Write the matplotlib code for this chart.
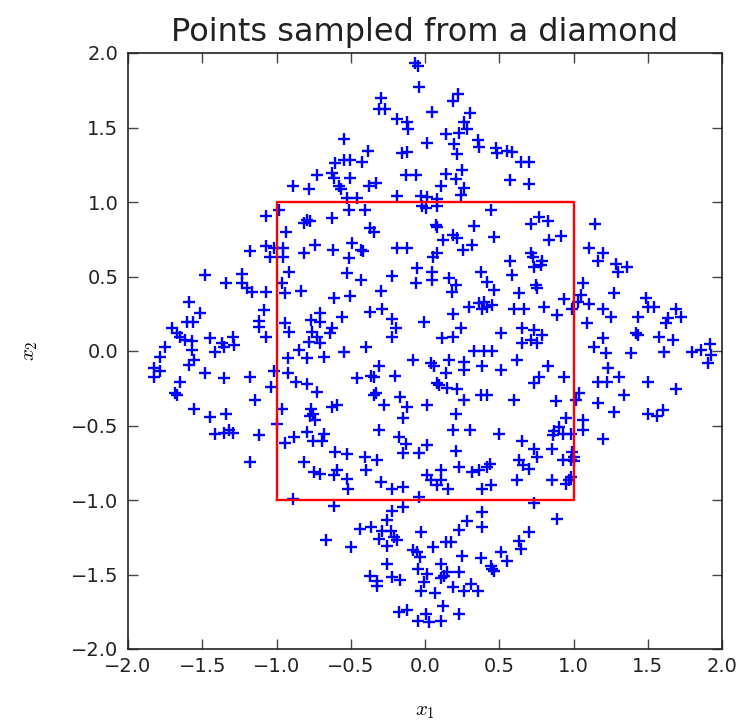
import matplotlib
matplotlib.use("Agg")
import matplotlib.pyplot as plt
import numpy as np

# sampled points (x1, x2), read region by region from top to bottom
X1 = [
    -0.888, -0.782, -0.726,
    -0.065, -0.045, -0.041, -0.293, -0.311, -0.272, 0.224, 0.190, 0.049, 0.303,
    -0.187, -0.120, -0.113, 0.262, 0.285, 0.229, -0.547, 0.139, 0.011, 0.195,
    0.213, 0.359, 0.364, 0.476, 0.487, 0.554, 0.588, 0.644, 0.573, -0.385,
    -0.153, -0.120, -0.423, -0.603, -0.547, -0.506, -0.625, -0.610, -0.506,
    -0.580, -0.565, -0.131, -0.063, 0.139, 0.206, 0.247, -0.378, -0.333, 0.105,
    0.262, 0.240, -0.187, -0.030, 0.015, -0.524, -0.457, 0.083,
    0.701, 0.701,
    -1.068, -0.985, -0.794, -0.776, -0.816, -0.933, -0.744, -0.816, -1.176,
    -1.068, -1.018, -1.045, -0.955, -0.955, -0.917, -1.479, -1.337, -1.232,
    -1.232, -1.198, -1.164, -1.068, -0.962, -0.940, -0.838, -1.591, -1.517,
    -1.086, -1.119, -1.119, -1.068, -1.603, -1.562, -1.704, -1.670, -1.648,
    -1.614, -1.569, -1.569, -1.749, -1.445, -1.367, -1.355, -1.292, -1.288,
    -1.415, -0.940, -0.917, -0.850, -0.771, -0.708, -0.708, -0.760, -0.726,
    -0.782, -0.704,
    -0.513, -0.401, -0.019, 0.004, 0.083, 0.442, -0.625, -0.371, -0.344, 0.071,
    0.083, 0.330, 0.190, 0.217, 0.123, 0.465, -0.490, -0.434, -0.416, -0.619,
    -0.187, -0.120, 0.083, 0.056, 0.258, 0.319, -0.513, 0.572, -0.052, 0.049,
    0.049, -0.524, -0.434, -0.221, -0.063, 0.375, 0.588, 0.161, 0.206, 0.184,
    0.420, 0.465, -0.299, -0.614, -0.506, 0.633, 0.364, 0.397, 0.420, 0.453,
    0.386, 0.296, 0.599, 0.667, -0.371, -0.288, -0.558, 0.190, -0.221, -0.198,
    -0.007, -0.625, -0.637, 0.244, 0.656, 0.510, 0.116, 0.190, -0.221, -0.394,
    -0.547, 0.330, 0.397, 0.453, 0.656,
    0.769, 0.825, 0.712, 1.146, 0.836, 0.915, 1.106, 1.202, 1.162, 0.712, 0.724,
    0.791, 0.780, 0.735, 1.286, 1.360, 1.301, 1.061, 0.746, 0.753, 1.270, 1.050,
    1.027, 0.933, 1.488, 1.499, 1.544, 1.106, 0.802, 0.993, 1.202, 1.252,
    0.888, 1.432, 1.690, 1.724, 1.634, 1.623, 1.090, 1.420, 1.432, 0.735,
    0.791, 0.712, 0.757, 1.202, 1.578, 1.668, 1.135, 1.387, 1.218, 1.611,
    1.797, 1.859, 1.921, 1.926, 1.903,
    -1.787, -1.827, -1.787, -1.827, -1.591, -1.558, -1.479, -1.355, -1.648,
    -1.681, -1.670, -1.176, -1.036, -1.018, -1.142, -1.558, -1.445, -1.337,
    -1.412, -1.355, -1.322, -1.292, -1.119, -1.000, -1.176, -0.888, -0.924,
    -0.794, -0.681, -0.924, -0.872, -0.794, -0.726, -0.962, -0.771, -0.753,
    -0.744, -0.775, -0.794, -0.753, -0.883, -0.940, -0.681, -0.692, -0.816,
    -0.749, -0.708,
    -0.079, 0.038, 0.060, 0.161, 0.262, 0.262, 0.386, 0.622, -0.311, -0.457,
    -0.367, -0.344, -0.203, 0.139, 0.510, 0.083, 0.094, -0.333, -0.344, -0.169,
    0.150, 0.213, 0.375, 0.415, 0.262, 0.599, -0.625, -0.592, -0.277, -0.120,
    0.011, 0.206, -0.147, -0.311, 0.190, 0.303, 0.498, -0.176, -0.131, 0.011,
    0.656, -0.603, -0.524, -0.147, -0.041, 0.206, -0.401, -0.326, -0.394,
    0.633, 0.662, 0.438, 0.415, 0.229, -0.592, -0.614, -0.524, -0.520, 0.105,
    0.015, 0.105, 0.083, 0.038, 0.319, 0.364, 0.622, -0.299, -0.221, -0.147,
    0.155, 0.386, 0.442, -0.041,
    0.825, 0.769, 0.735, 0.933, 1.229, 1.162, 1.225, 1.308, 1.503, 1.690,
    1.038, 1.016, 0.881, 1.162, 1.342, 1.270, 1.503, 1.562, 1.600, 0.948,
    0.903, 0.870, 0.926, 0.982, 0.859, 1.061, 1.061, 1.202, 0.735, 0.753,
    0.852, 0.993, 1.005, 0.926, 0.982, 1.005, 0.701, 0.852, 0.948, 0.971,
    0.982, 0.735,
    -0.665,
    -0.614, -0.221, -0.147, -0.259, -0.439, -0.367, -0.288, -0.232, -0.210,
    -0.187, -0.311, -0.259, -0.497, 0.386, 0.386, 0.280, 0.229, -0.025, 0.139,
    0.177, 0.056, -0.079, -0.057, -0.034, 0.633, 0.644, 0.510, 0.554, 0.251,
    0.375, 0.442, 0.453, 0.465, -0.259, 0.105, 0.150, 0.128, 0.105, -0.048,
    0.011, 0.229, -0.371, -0.322, -0.326, -0.221, -0.169, -0.007, 0.190,
    0.262, 0.312, 0.357, -0.025, 0.065, 0.123, -0.176, -0.120, 0.004, -0.048,
    0.026, 0.105, 0.229,
    0.892, 0.701,
]

X2 = [
    1.106, 1.088, 1.178,
    1.935, 1.910, 1.774, 1.700, 1.626, 1.622, 1.723, 1.678, 1.606, 1.595,
    1.555, 1.539, 1.492, 1.537, 1.487, 1.465, 1.425, 1.454, 1.398, 1.386,
    1.324, 1.416, 1.371, 1.364, 1.330, 1.342, 1.337, 1.268, 1.147, 1.342,
    1.330, 1.337, 1.268, 1.263, 1.285, 1.285, 1.196, 1.162, 1.162,
    1.106, 1.088, 1.178, 1.178, 1.185, 1.155, 1.218, 1.106, 1.129, 1.106,
    1.095, 1.050, 1.039, 1.039, 1.034, 1.028, 1.028, 1.017,
    1.268, 1.124,
    0.903, 0.948, 0.881, 0.870, 0.858, 0.796, 0.713, 0.657, 0.668,
    0.702, 0.690, 0.634, 0.690, 0.634, 0.533, 0.511, 0.459, 0.518,
    0.455, 0.421, 0.399, 0.399, 0.459, 0.388, 0.406, 0.332, 0.258,
    0.276, 0.204, 0.163, 0.096, 0.197, 0.197, 0.152, 0.119, 0.096,
    0.074, 0.069, 0.006, 0.024, 0.085, 0.051, 0.024, 0.096, 0.040,
    -0.010, 0.190, 0.130, 0.006, 0.208, 0.253, 0.197, 0.130, 0.096,
    0.063, 0.056,
    0.948, 0.944, 0.971, 0.959, 0.971, 0.948, 0.892, 0.825, 0.796, 0.847,
    0.832, 0.836, 0.780, 0.758, 0.746, 0.764, 0.724, 0.679, 0.668, 0.675,
    0.690, 0.690, 0.661, 0.634, 0.679, 0.713, 0.623, 0.607, 0.556, 0.533,
    0.477, 0.522, 0.477, 0.504, 0.459, 0.533, 0.511, 0.489, 0.444, 0.399,
    0.466, 0.410, 0.406, 0.354, 0.370, 0.392, 0.320, 0.332, 0.298, 0.309,
    0.280, 0.298, 0.280, 0.280, 0.264, 0.280, 0.231, 0.249, 0.213, 0.152,
    0.197, 0.152, 0.119, 0.152, 0.152, 0.119, 0.085, 0.096, 0.096, 0.029,
    -0.010, 0.000, 0.000, 0.000, 0.051,
    0.899, 0.870, 0.854, 0.854, 0.746, 0.769, 0.690, 0.657, 0.601, 0.661, 0.634,
    0.601, 0.578, 0.567, 0.585, 0.567, 0.527, 0.459, 0.444, 0.421, 0.392, 0.376,
    0.332, 0.347, 0.354, 0.298, 0.298, 0.316, 0.298, 0.280, 0.280, 0.226,
    0.242, 0.226, 0.280, 0.226, 0.220, 0.190, 0.190, 0.119, 0.107, 0.141,
    0.107, 0.074, 0.051, 0.085, 0.096, 0.074, 0.029, -0.012, -0.015, -0.008,
    -0.008, 0.006, 0.045, -0.030, -0.083,
    -0.043, -0.117, -0.133, -0.173, -0.094, -0.061, -0.150, -0.184, -0.207,
    -0.285, -0.296, -0.173, -0.240, -0.133, -0.330, -0.386, -0.442, -0.420,
    -0.559, -0.550, -0.527, -0.550, -0.565, -0.491, -0.745, -0.991, -0.050,
    -0.050, -0.038, -0.150, -0.207, -0.222, -0.274, -0.386, -0.386, -0.420,
    -0.464, -0.437, -0.543, -0.603, -0.577, -0.617, -0.554, -0.603, -0.745,
    -0.812, -0.828,
    -0.061, -0.083, -0.101, -0.061, -0.072, -0.128, -0.101, -0.061, -0.101, -0.184,
    -0.168, -0.177, -0.168, -0.150, -0.128, -0.218, -0.229, -0.281, -0.296, -0.307,
    -0.251, -0.258, -0.296, -0.296, -0.330, -0.330, -0.375, -0.364, -0.364, -0.379,
    -0.364, -0.420, -0.453, -0.527, -0.532, -0.532, -0.559, -0.577, -0.626, -0.633,
    -0.603, -0.677, -0.688, -0.684, -0.684, -0.671, -0.711, -0.729, -0.801,
    -0.733, -0.767, -0.756, -0.778, -0.778, -0.801, -0.834, -0.857, -0.924, -0.801,
    -0.834, -0.864, -0.902, -0.864, -0.812, -0.801, -0.868, -0.879, -0.924, -0.913,
    -0.924, -0.924, -0.902, -0.980,
    -0.101, -0.173, -0.213, -0.173, -0.117, -0.207, -0.207, -0.173, -0.207, -0.258,
    -0.281, -0.330, -0.334, -0.348, -0.296, -0.408, -0.420, -0.437, -0.397, -0.453,
    -0.509, -0.536, -0.554, -0.554, -0.565, -0.460, -0.532, -0.588, -0.655, -0.711,
    -0.655, -0.677, -0.711, -0.729, -0.733, -0.738, -0.790, -0.868, -0.890, -0.868,
    -0.846, -1.020,
    -1.268,
    -1.037, -1.071, -1.044, -1.134, -1.194, -1.178, -1.205, -1.205, -1.246,
    -1.268, -1.261, -1.306, -1.317, -1.082, -1.178, -1.138, -1.201, -1.217, -1.284,
    -1.284, -1.317, -1.335, -1.351, -1.385, -1.273, -1.329, -1.351, -1.412, -1.373,
    -1.389, -1.441, -1.463, -1.474, -1.430, -1.430, -1.486, -1.508, -1.524, -1.463,
    -1.497, -1.486, -1.508, -1.542, -1.575, -1.515, -1.537, -1.553, -1.587,
    -1.613, -1.564, -1.613, -1.613, -1.627, -1.710, -1.755, -1.739, -1.766, -1.811,
    -1.822, -1.811, -1.766,
    -1.127, -1.217,
]

# corners of the unit square drawn over the samples
SQ_X = [-1, 1, 1, -1, -1]
SQ_Y = [-1, -1, 1, 1, -1]

TICKS = np.arange(-2.0, 2.01, 0.5)

plt.rcParams["font.family"] = "DejaVu Sans"
plt.rcParams["mathtext.fontset"] = "cm"
plt.rcParams["axes.unicode_minus"] = True
plt.rcParams["text.color"] = "#222222"
plt.rcParams["xtick.color"] = "#444444"
plt.rcParams["ytick.color"] = "#444444"
plt.rcParams["xtick.labelcolor"] = "#222222"
plt.rcParams["ytick.labelcolor"] = "#222222"

fig = plt.figure(figsize=(7.46, 7.24), dpi=100, facecolor="white")
ax = fig.add_axes([128 / 746, 1 - 649 / 724, 594 / 746, 596 / 724])

ax.plot(X1, X2, "+", color="#0000ff", markersize=9, markeredgewidth=1.7,
        linestyle="none")
ax.plot(SQ_X, SQ_Y, "-", color="#ff0000", linewidth=1.7)

ax.set_xlim(-2, 2)
ax.set_ylim(-2, 2)
ax.set_xticks(TICKS)
ax.set_yticks(TICKS)
ax.set_xticklabels([f"{t:.1f}".replace("-", "\u2212") for t in TICKS])
ax.set_yticklabels([f"{t:.1f}".replace("-", "\u2212") for t in TICKS])
ax.tick_params(direction="in", length=7, width=1.0, labelsize=14,
               top=True, right=True)
ax.tick_params(axis="x", pad=6)
ax.tick_params(axis="y", pad=7)
for spine in ax.spines.values():
    spine.set_linewidth(1.2)
    spine.set_color("#222222")

ax.set_title("Points sampled from a diamond", fontsize=23, pad=9)
ax.set_xlabel(r"$x_1$", fontsize=15, labelpad=18)
ax.set_ylabel(r"$x_2$", fontsize=15, labelpad=22)

fig.savefig("out.png", dpi=100, facecolor="white")
